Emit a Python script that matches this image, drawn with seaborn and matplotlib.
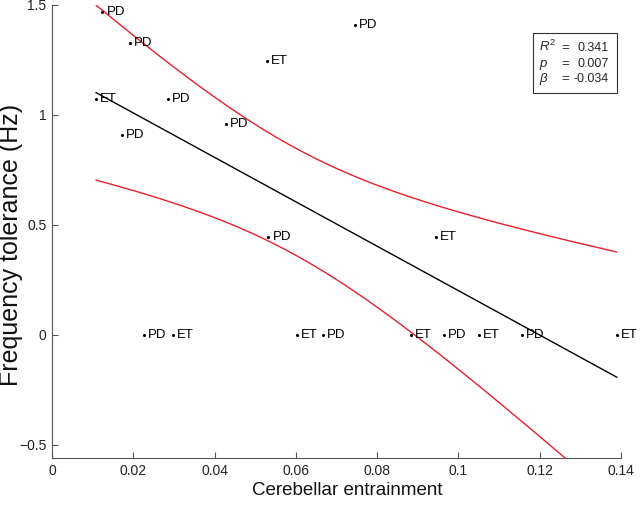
import numpy as np
import pandas as pd
import matplotlib
matplotlib.use("Agg")
import matplotlib.pyplot as plt
import seaborn as sns
from matplotlib.patches import Rectangle

# --- data ---
entrainment = [0.0124, 0.0192, 0.0529, 0.0746, 0.0108, 0.0285, 0.0428, 0.0172,
               0.0532, 0.0945, 0.0226, 0.0298, 0.0603, 0.0667, 0.0883, 0.0965,
               0.1051, 0.1156, 0.1390]
tolerance = [1.467, 1.327, 1.245, 1.409, 1.073, 1.073, 0.959, 0.909,
             0.443, 0.443, 0.0, 0.0, 0.0, 0.0, 0.0, 0.0,
             0.0, 0.0, 0.0]
group = ["PD", "PD", "ET", "PD", "ET", "PD", "PD", "PD",
         "PD", "ET", "PD", "ET", "ET", "PD", "ET", "PD",
         "ET", "PD", "ET"]

# fitted line as drawn in the figure
fit_intercept = 1.211
fit_slope = -10.1
t_crit = 2.11  # t(0.975, df=17)

stat_names = [r"$R^2$", r"$p$", r"$\beta$"]
stat_values = ["0.341", "0.007", "-0.034"]

xticks = [0, 0.02, 0.04, 0.06, 0.08, 0.1, 0.12, 0.14]
xtick_labels = ["0", "0.02", "0.04", "0.06", "0.08", "0.1", "0.12", "0.14"]
yticks = [-0.5, 0, 0.5, 1, 1.5]
ytick_labels = ["\u22120.5", "0", "0.5", "1", "1.5"]

df = pd.DataFrame({"x": entrainment, "y": tolerance, "group": group})

# --- fit line + confidence band ---
x = df["x"].to_numpy()
y = df["y"].to_numpy()
n = len(x)
resid = y - (fit_intercept + fit_slope * x)
s = np.sqrt((resid ** 2).sum() / (n - 2))
sxx = ((x - x.mean()) ** 2).sum()
xg = np.linspace(x.min(), x.max(), 200)
yg = fit_intercept + fit_slope * xg
hw = t_crit * s * np.sqrt(1 / n + (xg - x.mean()) ** 2 / sxx)

# --- style ---
sns.set_style("ticks")
plt.rcParams["font.family"] = ["Liberation Sans", "DejaVu Sans"]
plt.rcParams["mathtext.fontset"] = "custom"
plt.rcParams["mathtext.rm"] = "Liberation Sans"
plt.rcParams["mathtext.it"] = "Liberation Sans:italic"
plt.rcParams["axes.unicode_minus"] = True

fig = plt.figure(figsize=(6.4, 5.15), dpi=100)
ax = fig.add_axes([0.0813, 0.1107, 0.889, 0.8796])

sns.lineplot(x=xg, y=yg + hw, color="#e8202a", linewidth=1.0, ax=ax)
sns.lineplot(x=xg, y=yg - hw, color="#e8202a", linewidth=1.0, ax=ax)
sns.lineplot(x=xg, y=yg, color="black", linewidth=1.0, ax=ax)
sns.scatterplot(data=df, x="x", y="y", color="black", s=5, linewidth=0, ax=ax, zorder=3)

for _, r in df.iterrows():
    ax.annotate(r["group"], (r["x"], r["y"]), xytext=(3, 0), textcoords="offset points",
                fontsize=9.5, va="center", ha="left", color="black")

ax.set_xlim(0, 0.14)
ax.set_ylim(-0.56, 1.5)
ax.set_xticks(xticks)
ax.set_xticklabels(xtick_labels)
ax.set_yticks(yticks)
ax.set_yticklabels(ytick_labels)
ax.tick_params(direction="in", length=4, width=0.8, colors="#555555",
               labelcolor="#222222", labelsize=10, pad=4)
for side in ["top", "right"]:
    ax.spines[side].set_visible(False)
for side in ["left", "bottom"]:
    ax.spines[side].set_color("#555555")
    ax.spines[side].set_linewidth(0.8)

ax.set_xlabel("Cerebellar entrainment", fontsize=13.5, color="#111111")
ax.xaxis.set_label_coords(0.518, -0.071)
ax.xaxis.label.set_va("center")
ax.set_ylabel("Frequency tolerance (Hz)", fontsize=18, color="#111111")
ax.yaxis.set_label_coords(-0.072, 0.47)
ax.yaxis.label.set_va("center")

# stats box
ax.add_patch(Rectangle((0.845, 0.806), 0.148, 0.132, transform=ax.transAxes,
                       facecolor="white", edgecolor="#333333", linewidth=0.8, zorder=4))
rows_y = [0.898, 0.864, 0.829]
for name, val, ry in zip(stat_names, stat_values, rows_y):
    ax.text(0.856, ry, name, transform=ax.transAxes, fontsize=9.5, va="baseline", ha="left", zorder=5)
    ax.text(0.9025, ry, "=", transform=ax.transAxes, fontsize=9.5, va="baseline", ha="center", zorder=5)
    ax.text(0.978, ry, val, transform=ax.transAxes, fontsize=9, va="baseline", ha="right", zorder=5)

fig.savefig("out.png", dpi=100)
